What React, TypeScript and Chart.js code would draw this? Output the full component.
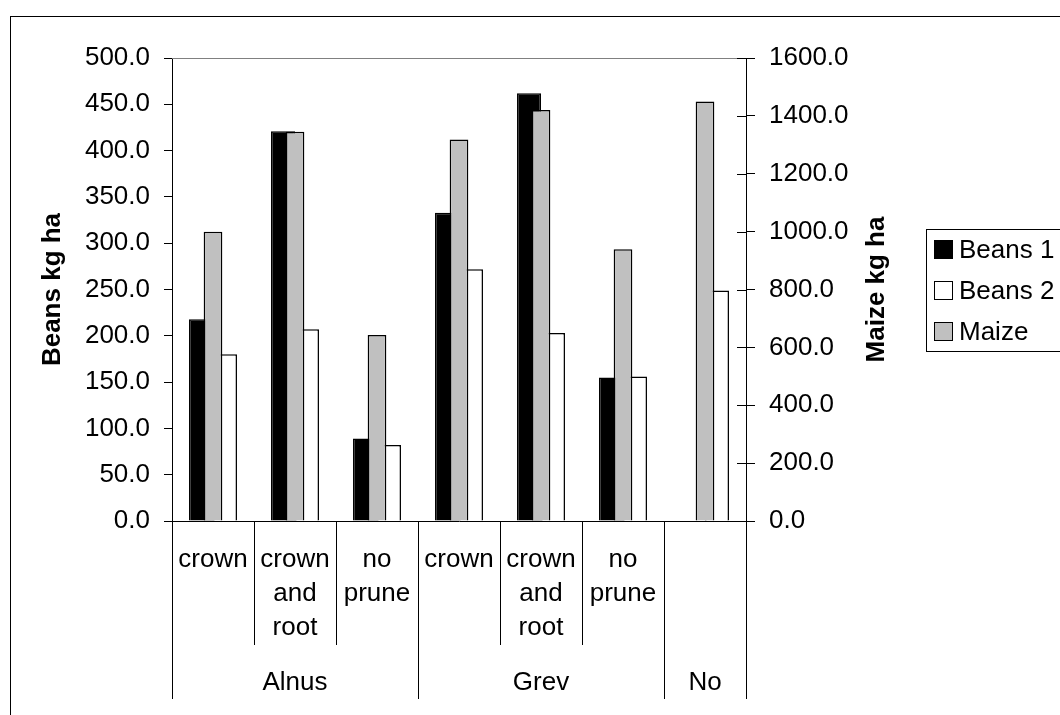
import { useEffect, useRef } from "react";
import { Chart, registerables } from "chart.js";

Chart.register(...registerables);

const FONT = '"Liberation Sans", Arial, sans-serif';
const FS = 26;

// Category data
const categories = ["crown", "crown and root", "no prune", "crown", "crown and root", "no prune", ""];
const subLabelLines = [
  ["crown"],
  ["crown", "and", "root"],
  ["no", "prune"],
  ["crown"],
  ["crown", "and", "root"],
  ["no", "prune"],
  [],
];
const groups = ["Alnus", "Grev", "No"];
const groupSpans = [3, 3, 1];

// Series values
const beans1 = [218, 421, 89, 333, 462, 155, null];
const beans2 = [180, 207, 82, 272, 203, 156, 249];
const maize = [1000, 1345, 643, 1318, 1420, 939, 1450];

// Axis settings
const leftMax = 500;
const leftStep = 50;
const rightMax = 1600;
const rightStep = 200;
const leftTitle = "Beans kg ha";
const rightTitle = "Maize kg ha";

const decorPlugin = {
  id: "decor",
  afterDraw(chart: any) {
    const ctx = chart.ctx as CanvasRenderingContext2D;
    const { left, right, top, bottom } = chart.chartArea;
    const xs = chart.scales.x;
    const y1 = chart.scales.y1;
    ctx.save();

    // outer chart border
    ctx.strokeStyle = "#000";
    ctx.lineWidth = 1;
    ctx.strokeRect(10.5, 16.5, 1300, 1000);

    // plot area top line
    ctx.strokeStyle = "#808080";
    ctx.beginPath();
    ctx.moveTo(left, top + 0.5);
    ctx.lineTo(right, top + 0.5);
    ctx.stroke();

    // inward ticks on right axis
    ctx.strokeStyle = "#000";
    ctx.beginPath();
    y1.ticks.forEach((t: any) => {
      const py = Math.round(y1.getPixelForValue(t.value)) + 0.5;
      ctx.moveTo(right - 9, py);
      ctx.lineTo(right, py);
    });
    ctx.stroke();

    // category separators
    const n = categories.length;
    const groupBounds = new Set<number>([0]);
    let acc = 0;
    groupSpans.forEach((s) => {
      acc += s;
      groupBounds.add(acc);
    });
    ctx.beginPath();
    for (let i = 0; i <= n; i++) {
      const px = Math.round(xs.getPixelForValue(i - 0.5)) + 0.5;
      const end = groupBounds.has(i) ? 699 : 645;
      ctx.moveTo(px, bottom);
      ctx.lineTo(px, end);
    }
    ctx.stroke();

    // sub labels
    ctx.fillStyle = "#000";
    ctx.font = `${FS}px ${FONT}`;
    ctx.textAlign = "center";
    ctx.textBaseline = "middle";
    subLabelLines.forEach((lines, i) => {
      const cx = xs.getPixelForValue(i);
      lines.forEach((ln, k) => {
        ctx.fillText(ln, cx, 560 + k * 34);
      });
    });

    // group labels
    let start = 0;
    groups.forEach((g, gi) => {
      const end = start + groupSpans[gi];
      const x0 = xs.getPixelForValue(start - 0.5);
      const x1 = xs.getPixelForValue(end - 0.5);
      ctx.fillText(g, (x0 + x1) / 2, 683);
      start = end;
    });

    // axis titles
    ctx.font = `bold ${FS}px ${FONT}`;
    const midY = (top + bottom) / 2;
    ctx.save();
    ctx.translate(53, midY);
    ctx.rotate(-Math.PI / 2);
    ctx.fillText(leftTitle, 0, 0);
    ctx.restore();
    ctx.save();
    ctx.translate(877, midY);
    ctx.rotate(-Math.PI / 2);
    ctx.fillText(rightTitle, 0, 0);
    ctx.restore();

    // legend
    ctx.strokeStyle = "#000";
    ctx.lineWidth = 1;
    ctx.strokeRect(926.5, 229.5, 300, 122);
    ctx.font = `${FS}px ${FONT}`;
    ctx.textAlign = "left";
    chart.data.datasets.forEach((ds: any, i: number) => {
      const cy = 250 + i * 41;
      ctx.fillStyle = ds.backgroundColor;
      ctx.fillRect(934.5, cy - 9.5, 18, 18);
      ctx.strokeStyle = "#000";
      ctx.strokeRect(934.5, cy - 9.5, 18, 18);
      ctx.fillStyle = "#000";
      ctx.fillText(ds.label, 959, cy + 1);
    });

    ctx.restore();
  },
};

export default function App() {
  const canvasRef = useRef<HTMLCanvasElement | null>(null);

  useEffect(() => {
    if (!canvasRef.current) return;
    const chart = new Chart(canvasRef.current, {
      type: "bar",
      data: {
        labels: categories,
        datasets: [
          {
            label: "Beans 1",
            data: beans1,
            yAxisID: "y",
            backgroundColor: "#000000",
            borderColor: "#000000",
            borderWidth: 1.5,
            categoryPercentage: 0.585,
            barPercentage: 1,
            order: 1,
          },
          {
            label: "Beans 2",
            data: beans2,
            yAxisID: "y",
            backgroundColor: "#FFFFFF",
            borderColor: "#000000",
            borderWidth: 1.5,
            categoryPercentage: 0.585,
            barPercentage: 1,
            order: 1,
          },
          {
            label: "Maize",
            data: maize,
            yAxisID: "y1",
            backgroundColor: "#C0C0C0",
            borderColor: "#000000",
            borderWidth: 1.5,
            grouped: false,
            barPercentage: 0.285,
            order: 0,
          },
        ] as any,
      },
      options: {
        animation: false,
        responsive: false,
        maintainAspectRatio: false,
        layout: { padding: { top: 58, left: 0, right: 0, bottom: 0 } },
        plugins: {
          legend: { display: false },
          tooltip: { enabled: false },
        },
        scales: {
          x: {
            type: "category",
            offset: true,
            grid: { display: false },
            border: { display: true, color: "#000", width: 1 },
            ticks: { display: false },
            afterFit: (s: any) => {
              s.height = 194;
            },
          },
          y: {
            position: "left",
            min: 0,
            max: leftMax,
            ticks: {
              stepSize: leftStep,
              color: "#000",
              padding: 14,
              font: { size: FS, family: FONT },
              callback: (v: any) => Number(v).toFixed(1),
            },
            grid: { drawOnChartArea: false, drawTicks: true, tickLength: 8, color: "#000" },
            border: { display: true, color: "#000", width: 1 },
            afterFit: (s: any) => {
              s.width = 172;
            },
          },
          y1: {
            position: "right",
            min: 0,
            max: rightMax,
            ticks: {
              stepSize: rightStep,
              color: "#000",
              padding: 14,
              font: { size: FS, family: FONT },
              callback: (v: any) => Number(v).toFixed(1),
            },
            grid: { drawOnChartArea: false, drawTicks: true, tickLength: 9, color: "#000" },
            border: { display: true, color: "#000", width: 1 },
            afterFit: (s: any) => {
              s.width = 314;
            },
          },
        },
      } as any,
      plugins: [decorPlugin],
    });
    return () => chart.destroy();
  }, []);

  return (
    <div style={{ position: "absolute", left: 0, top: 0, width: 1060, height: 715, background: "#fff" }}>
      <canvas ref={canvasRef} width={1060} height={715} style={{ display: "block" }} />
    </div>
  );
}
